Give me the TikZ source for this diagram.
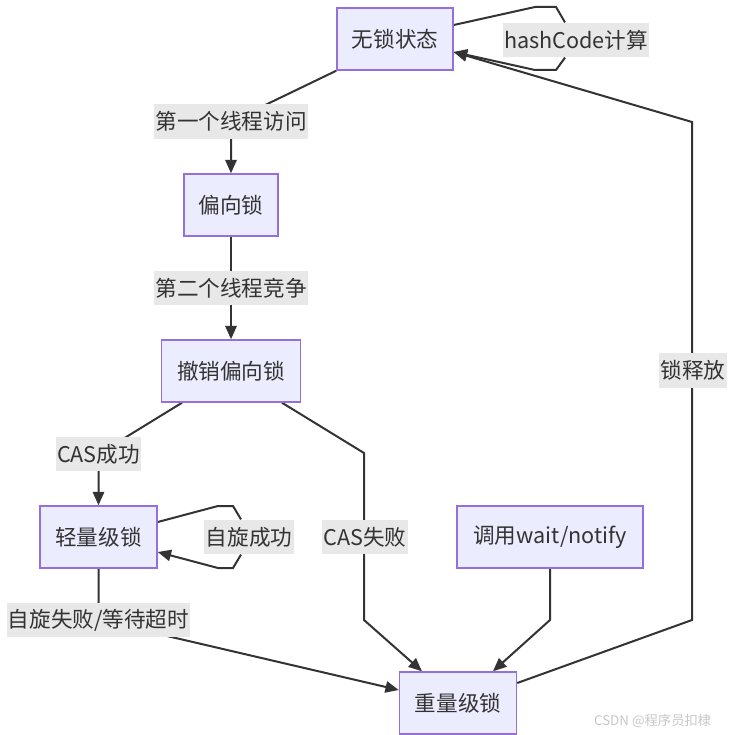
\documentclass[tikz,border=0pt]{standalone}
\usepackage{fontspec}
\setmainfont{Noto Sans CJK SC}
\usetikzlibrary{arrows.meta,calc,backgrounds}
\definecolor{nodefill}{HTML}{ECECFF}
\definecolor{nodeborder}{HTML}{9370DB}
\definecolor{edgecol}{HTML}{333333}
\definecolor{lblbg}{HTML}{E8E8E8}
\begin{document}
\begin{tikzpicture}[x=0.75pt,y=-0.75pt,
  state/.style={draw=nodeborder, fill=nodefill, line width=1.1pt, minimum height=46.5pt, inner sep=0pt, text=edgecol, font=\fontsize{16.2}{18}\selectfont},
  lbl/.style={fill=lblbg, text=edgecol, inner sep=1pt, minimum height=26pt, font=\fontsize{16.2}{18}\selectfont},
  edge/.style={draw=edgecol, line width=1.5pt},
  arr/.style={edge, -{Triangle[length=10pt,width=8.5pt]}}]
\useasboundingbox (0,0) rectangle (728,735);
% states
\node[state, minimum width=87pt] (n0) at (395,39) {无锁状态};
\node[state, minimum width=70.5pt] (n1) at (231,205) {偏向锁};
\node[state, minimum width=104.25pt] (n2) at (231,371) {撤销偏向锁};
\node[state, minimum width=87.75pt] (n3) at (98.5,537) {轻量级锁};
\node[state, minimum width=139.5pt] (n4) at (550,537) {调用wait/notify};
\node[state, minimum width=87.75pt] (n5) at (458,703) {重量级锁};
% labels
\node[lbl] (l0) at (576,40) {hashCode计算};
\node[lbl] (l1) at (231,121.5) {第一个线程访问};
\node[lbl] (l2) at (231,288) {第二个线程竞争};
\node[lbl] (l3) at (98.5,454) {CAS成功};
\node[lbl] (l4) at (249,537) {自旋成功};
\node[lbl] (l5) at (365,537) {CAS失败};
\node[lbl] (l6) at (98.5,620) {自旋失败/等待超时};
\node[lbl] (l7) at (693,370.5) {锁释放};
% corner points
\coordinate (c0a) at (535,7);
\coordinate (c0b) at (556,7);
\coordinate (c0c) at (556,70);
\coordinate (c0d) at (535,70);
\coordinate (c3a) at (218,506);
\coordinate (c3b) at (233,506);
\coordinate (c3c) at (233,568);
\coordinate (c3d) at (218,568);
\coordinate (c5a) at (364,453);
\coordinate (c5b) at (364,620);
\coordinate (c4a) at (550,620);
\coordinate (c7a) at (692,620);
\coordinate (c7b) at (692,122);
\begin{scope}[on background layer]
\draw[edge] ($(n0.east)+(0,-14)$) -- (c0a) -- (c0b) -- (l0.north -| 565,0);
\draw[arr] (l0.south -| 565,0) -- (c0c) -- (c0d) -- ($(n0.east)+(0,13)$);
\draw[arr] (n0.south west) -- (l1.center) -- (n1.north);
\draw[arr] (n1.south) -- (l2.center) -- (n2.north);
\draw[arr] ($(n2.south)+(-49,0)$) -- (l3.center) -- (n3.north);
\draw[edge] ($(n3.east)+(0,-15)$) -- (c3a) -- (c3b) -- (l4.north -| 241,0);
\draw[arr] (l4.south -| 241,0) -- (c3c) -- (c3d) -- ($(n3.east)+(0,15)$);
\draw[arr] ($(n2.south)+(51,0)$) -- (c5a) -- (l5.center -| c5a) -- (c5b) -- ($(n5.north)+(-36,0)$);
\draw[arr] (n4.south) -- (c4a) -- ($(n5.north)+(35,0)$);
\draw[arr] (n3.south) -- (l6.center) -- ($(n5.west)+(0,-13)$);
\draw[arr] ($(n5.east)+(0,-20)$) -- (c7a) -- (l7.center -| c7a) -- (c7b) -- ($(n0.east)+(0,13)$);
\end{scope}
\node[text=black!22, font=\fontsize{10}{12}\selectfont, anchor=east] (wm) at (716,721) {CSDN @程序员扣棣};
\end{tikzpicture}
\end{document}
